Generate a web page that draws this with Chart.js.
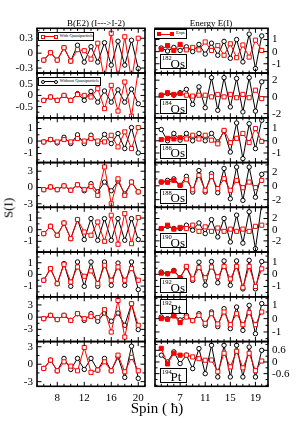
<!DOCTYPE html>
<html><head><meta charset="utf-8">
<script src="https://cdn.jsdelivr.net/npm/chart.js@4.4.1/dist/chart.umd.min.js"></script>
<style>
body{margin:0;background:#fff;}
#wrap{position:relative;width:299px;height:423px;overflow:hidden;font-family:'Liberation Serif','Times New Roman',serif;color:#000;}
canvas{position:absolute;top:0;}
.t{position:absolute;white-space:nowrap;z-index:5;line-height:1;}
.leg{position:absolute;box-sizing:border-box;border:1px solid #000;background:#fff;z-index:5;}
.leg .ln{position:absolute;height:0;}
.leg .mk{position:absolute;box-sizing:border-box;width:4px;height:4px;}
.leg .tx{position:absolute;font-size:4.5px;line-height:4.5px;white-space:nowrap;}
.nuc{position:absolute;box-sizing:border-box;border:1px solid #000;background:#fff;z-index:5;width:27px;height:15px;}
.nuc .m{position:absolute;left:1px;top:0px;font-size:6.5px;line-height:6.5px;}
.nuc .e{position:absolute;left:9.5px;bottom:-1.5px;font-size:13px;line-height:13px;}
</style></head><body>
<div id="wrap"></div>
<script>
// ---------- categories / ticks ----------
const spinsB = [6,7,8,9,10,11,12,13,14,15,16,17,18,19,20];
const spinsE = [4,5,6,7,8,9,10,11,12,13,14,15,16,17,18,19,20];
const xTicksB = [8,12,16,20];
const xTicksE = [7,11,15,19];
const nucleusMass = ['182','184','186','188','190','192','192','194'];
const nucleusElem = ['Os','Os','Os','Os','Os','Os','Pt','Pt'];

// ---------- B(E2) S(I) : With / Without quasiparticle ----------
const bWith182    = [-0.14,0.01,-0.14,0.11,-0.16,0.07,0.05,-0.12,0.20,-0.55,0.40,-0.55,0.33,-0.55,0.30];
const bWithout182 = [-0.14,0.01,-0.14,0.11,-0.16,0.16,-0.18,0.13,-0.18,0.21,-0.24,0.24,-0.24,0.26,-0.31];
const bWith184    = [-0.22,-0.07,-0.22,0.0,-0.22,0.04,0.0,-0.07,0.30,-0.59,0.45,-0.70,0.60,-0.93,1.10];
const bWithout184 = [-0.22,-0.07,-0.22,0.0,-0.22,0.08,-0.22,0.18,-0.30,0.20,-0.30,0.25,-0.30,0.28,-0.37];
const bWith186    = [-0.07,0.12,-0.07,0.12,-0.07,0.20,0.0,0.20,0.0,-0.07,0.46,-0.47,0.73,-0.60,1.08];
const bWithout186 = [-0.07,0.12,-0.15,0.30,-0.20,0.50,-0.20,0.47,-0.20,0.53,-0.20,0.60,-0.60,1.08,-0.95];
const bWith188    = [-0.4,0.1,-0.4,0.3,-0.5,0.5,-0.4,0.2,-1.45,3.8,-3.0,1.6,-1.45,1.0,-0.8];
const bWithout188 = [-0.4,0.1,-0.4,0.3,-0.5,0.5,-0.6,0.7,-0.8,1.0,-0.6,1.2,-1.2,1.0,-0.8];
const bWith190    = [-0.34,0.29,-0.48,0.57,-0.77,0.87,-0.20,-0.48,0.66,-1.0,1.24,-1.25,1.38,-1.20,1.04];
const bWithout190 = [-0.34,0.29,-0.48,0.57,-0.77,0.87,-0.85,0.95,-0.91,0.95,-0.91,0.95,-0.91,0.95,-0.85];
const bWith192    = [-0.5,0.5,-0.79,0.87,-0.65,0.64,-0.16,0.30,-0.79,0.78,-0.5,0.64,-0.5,0.5,-0.5];
const bWithout192 = [-0.5,0.5,-0.79,0.93,-1.02,1.07,-1.02,1.07,-1.02,1.07,-0.93,0.98,-0.93,1.07,-1.30];
const bWith192Pt    = [-0.37,0.44,-0.6,0.44,-0.8,0.86,-0.37,0.2,-0.1,1.84,-3.66,4.1,-4.9,3.3,-2.0];
const bWithout192Pt = [-0.37,0.44,-0.6,0.44,-0.8,0.86,-0.8,0.86,-1.0,1.0,-1.0,1.0,-2.0,3.3,-3.07];
const bWith194Pt    = [-0.72,0.7,-1.13,0.41,-0.33,-1.13,2.88,-1.4,-1.0,0.41,-1.13,1.56,-1.3,1.17,-1.13];
const bWithout194Pt = [-0.72,0.7,-1.13,1.0,-0.9,1.0,-0.9,1.0,-1.0,1.0,-1.13,1.27,-2.27,3.1,-2.44];

// ---------- Energy S(I) : Expt. / Theory ----------
const eExpt182   = [0.2,0.5,0.1,0.6,0.15,0.35,0.15,0.8,0.1,0.5,-0.3,0.65,-0.5,0.55,-0.45,0.95,0.1];
const eTheory182 = [0.3,0.05,0.35,0.1,0.4,0.0,0.6,-0.2,0.7,-0.3,0.85,-0.55,1.0,-0.85,1.45,-1.4,1.3];
const eExpt184   = [0.2,0.5,0.3,0.4,0.2,0.1,0.2,0.2,0.0,0.3,0.0,0.3,-0.1,0.3,-0.1,0.8,-0.2];
const eTheory184 = [0.2,0.4,0.2,0.5,0.9,-0.9,1.2,-1.3,2.3,-1.6,2.3,-1.2,2.2,-1.8,2.3,-1.7,1.8];
const eExpt186   = [0.1,0.2,0.15,0.25,0.15,0.45,0.15,0.45,0.05,-0.25,0.85,-0.15,0.2,0.6,-0.15,1.0,-0.05];
const eTheory186 = [0.92,0.0,0.6,0.05,0.6,0.0,0.6,0.0,0.6,-0.1,0.8,-0.92,1.46,-1.46,1.4,-0.64,1.68];
const eExpt188   = [0.54,0.5,0.78,0.05,0.88,-0.57,1.5,-0.65,1.36,-0.4,1.03,-0.65,0.78,-0.27,0.54,-0.27,0.78];
const eTheory188 = [0.54,0.78,1.0,0.05,1.36,-0.9,2.2,-0.9,1.75,-1.0,2.5,-1.87,2.7,-2.1,2.7,-1.64,1.65];
const eExpt190   = [0.2,0.8,0.1,0.4,0.2,0.8,-0.3,0.5,-0.3,0.3,-0.3,0.1,-0.3,0.1,-0.3,0.6,0.8];
const eTheory190 = [0.2,0.6,0.2,0.2,0.8,-0.1,1.2,-0.7,1.8,-1.3,2.0,-2.2,2.6,-2.4,3.2,-3.4,4.6];
const eExpt192   = [0.1,0.05,0.27,-0.28,0.65,-0.38,0.55,-0.28,0.6,-0.2,0.65,-0.38,0.65,-1.1,0.65,-1.0,0.45];
const eTheory192 = [0.18,0.05,0.32,-0.28,0.6,-0.5,1.0,-0.9,1.05,-0.7,1.1,-0.9,1.1,-1.2,1.15,-1.2,1.05];
const eExpt192Pt   = [0.0,-0.05,0.2,-0.3,0.12,-0.15,0.25,-0.35,0.37,-0.4,0.5,-0.45,0.37,-0.45,0.45,-0.45,0.5];
const eTheory192Pt = [0.12,0.0,0.25,-0.1,0.25,-0.15,0.37,-0.5,0.5,-0.6,0.75,-0.75,0.87,-0.88,1.0,-1.13,1.13];
const eExpt194Pt   = [0.7,-0.1,0.45,0.35,0.35,0.26,0.17,0.09,0.1,-0.5,0.45,-0.25,0.55,-0.3,0.45,-0.45,0.05];
const eTheory194Pt = [0.35,0.0,0.52,-0.08,0.35,-0.34,0.69,-0.6,0.86,-0.77,0.86,-0.77,0.86,-0.77,0.77,-0.77,0.6];

// ---------- y tick labels per panel ----------
const yTicksB = [[-0.3,0,0.3],[-0.5,0,0.5],[-1,0,1],[-3,0,3],[-1,0,1],[-1,0,1],[-3,0,3],[-3,0,3]];
const yTicksE = [[-1,0,1],[-2,0,2],[-1,0,1],[-2,0,2],[-2,0,2],[-1,0,1],[-1,0,1],[-0.6,0,0.6]];

// ---------- axis layout (not data) ----------
const yRangeB = [[-0.4,0.5],[-1,1],[-1.72,1.86],[-3.65,4.6],[-1.92,1.92],[-1.92,1.92],[-6,5],[-3.8,3.9]];
const yMinorB = [0.15,0.25,0.5,1.5,0.5,0.5,1.5,1.5];
const yRangeE = [[-1.77,1.93],[-2.5,2.85],[-1.78,1.88],[-3.1,3.35],[-4,4],[-1.85,1.83],[-1.72,1.64],[-1.25,1.05]];
const yMinorE = [0.5,1,0.5,1,1,0.5,0.5,0.3];

const seriesB = [[bWith182,bWithout182],[bWith184,bWithout184],[bWith186,bWithout186],[bWith188,bWithout188],
  [bWith190,bWithout190],[bWith192,bWithout192],[bWith192Pt,bWithout192Pt],[bWith194Pt,bWithout194Pt]];
const seriesE = [[eExpt182,eTheory182],[eExpt184,eTheory184],[eExpt186,eTheory186],[eExpt188,eTheory188],
  [eExpt190,eTheory190],[eExpt192,eTheory192],[eExpt192Pt,eTheory192Pt],[eExpt194Pt,eTheory194Pt]];

const FONT = "'Liberation Serif','Times New Roman',serif";
const TOP0 = 28.3, ROWH = 44.75, CH = 423;
const wrap = document.getElementById('wrap');

const framePlugin = {
  id: 'frame',
  afterDraw(chart, args, o) {
    const {ctx, chartArea: a} = chart;
    const xs = chart.scales.x, ys = chart.scales.y;
    ctx.save();
    ctx.strokeStyle = '#000';
    ctx.lineWidth = 1;
    ctx.beginPath();
    const xMaj = xs.ticks.map(t => t.value);
    for (let v = Math.ceil(xs.min); v <= Math.floor(xs.max); v++) {
      const L = xMaj.includes(v) ? 4.5 : 2.5;
      const p = xs.getPixelForValue(v);
      ctx.moveTo(p, a.bottom); ctx.lineTo(p, a.bottom - L);
      ctx.moveTo(p, a.top); ctx.lineTo(p, a.top + L);
    }
    const yMaj = ys.ticks.map(t => t.value);
    const st = o.minor;
    for (let k = Math.ceil(ys.min / st); k * st <= ys.max; k++) {
      const v = +(k * st).toFixed(4);
      const L = yMaj.some(m => Math.abs(m - v) < 1e-6) ? 4.5 : 2.5;
      const p = ys.getPixelForValue(v);
      ctx.moveTo(a.left, p); ctx.lineTo(a.left + L, p);
      ctx.moveTo(a.right, p); ctx.lineTo(a.right - L, p);
    }
    ctx.stroke();
    ctx.lineWidth = 1.6;
    ctx.strokeRect(a.left, a.top, a.right - a.left, a.bottom - a.top);
    ctx.restore();
  }
};

function xy(xs, ys) { return xs.map((x, i) => ({x, y: ys[i]})); }

function makePanel(col, row) {
  const left = col === 0;
  const showX = row === 7;
  const top = TOP0 + ROWH * row;
  const bottom = top + ROWH;
  const xAxisH = 20;
  const canvas = document.createElement('canvas');
  const cl = left ? 0 : 150, cw = left ? 150 : 149;
  canvas.width = cw; canvas.height = CH;
  canvas.style.left = cl + 'px';
  canvas.style.width = cw + 'px'; canvas.style.height = CH + 'px';
  wrap.appendChild(canvas);
  const spins = left ? spinsB : spinsE;
  const [red, black] = left ? seriesB[row] : seriesE[row];
  const yr = left ? yRangeB[row] : yRangeE[row];
  const yt = left ? yTicksB[row] : yTicksE[row];
  const xt = left ? xTicksB : xTicksE;
  const redFill = spins.map((s, i) => (!left && i < 4) ? '#ff0000' : '#ffffff');
  new Chart(canvas, {
    type: 'line',
    data: {
      datasets: [
        {data: xy(spins, red), borderColor: '#ff0000', borderWidth: 1, tension: 0,
         pointStyle: 'rect', pointRadius: 2.9, pointBorderWidth: 1, pointBorderColor: '#ff0000',
         pointBackgroundColor: redFill, order: 0},
        {data: xy(spins, black), borderColor: '#000000', borderWidth: 1, tension: 0,
         pointStyle: 'circle', pointRadius: 2.2, pointBorderWidth: 1, pointBorderColor: '#000000',
         pointBackgroundColor: '#ffffff', order: 1}
      ]
    },
    options: {
      responsive: false, animation: false, devicePixelRatio: 1,
      layout: {padding: {left: left ? 0 : 4, right: 3, top: top,
                         bottom: CH - bottom - (showX ? xAxisH : 0)}},
      plugins: {legend: {display: false}, tooltip: {enabled: false},
                frame: {minor: left ? yMinorB[row] : yMinorE[row]}},
      scales: {
        x: {type: 'linear', bounds: 'data', min: left ? 5 : 3, max: 21, display: showX,
            afterBuildTicks: s => { s.ticks = xt.map(v => ({value: v})); },
            afterFit: s => { s.height = showX ? xAxisH : 0; },
            grid: {display: false, drawTicks: false}, border: {display: false},
            ticks: {font: {family: FONT, size: 11}, color: '#000', padding: 5,
                    maxRotation: 0, autoSkip: false, callback: v => String(v)}},
        y: {type: 'linear', bounds: 'data', position: left ? 'left' : 'right',
            min: yr[0], max: yr[1],
            afterBuildTicks: s => { s.ticks = yt.map(v => ({value: v})); },
            afterFit: s => { s.width = left ? 37 : 28; },
            grid: {display: false, drawTicks: false}, border: {display: false},
            ticks: {font: {family: FONT, size: 11}, color: '#000', padding: 4,
                    autoSkip: false, callback: v => String(v)}}
      }
    },
    plugins: [framePlugin]
  });
  if (!left) {
    const d = document.createElement('div');
    d.className = 'nuc';
    d.style.left = '160px';
    d.style.top = (row === 6 ? top + 2.5 : top + 26) + 'px';
    d.innerHTML = '<span class="m">' + nucleusMass[row] + '</span><span class="e">' + nucleusElem[row] + '</span>';
    wrap.appendChild(d);
  }
}

for (let r = 0; r < 8; r++) { makePanel(0, r); makePanel(1, r); }

function addText(txt, x, y, size, extra) {
  const d = document.createElement('div');
  d.className = 't';
  d.textContent = txt;
  d.style.fontSize = size + 'px';
  d.style.left = x + 'px'; d.style.top = y + 'px';
  if (extra) Object.assign(d.style, extra);
  wrap.appendChild(d);
  return d;
}
// titles
addText('B(E2) (I--->I-2)', 96, 22.7, 9, {transform: 'translate(-50%,-50%)'});
addText('Energy E(I)', 211, 23, 9, {transform: 'translate(-50%,-50%)'});
addText('S(I)', 8, 208, 13, {transform: 'translate(-50%,-50%) rotate(-90deg)'});
addText('Spin ( \u0127)', 157, 408, 15, {transform: 'translate(-50%,-50%)'});

function addLegend(x, y, w, h, color, square, filled, label) {
  const b = document.createElement('div');
  b.className = 'leg';
  Object.assign(b.style, {left: x + 'px', top: y + 'px', width: w + 'px', height: h + 'px'});
  const midY = h / 2 - 1;
  b.innerHTML =
    '<div class="ln" style="left:3px;width:14px;top:' + midY + 'px;border-top:1px solid ' + color + '"></div>' +
    ['2px', '15px'].map(l => '<div class="mk" style="left:' + l + ';top:' + (midY - 1.5) + 'px;border:1px solid ' + color +
      ';background:' + (filled ? color : '#fff') + ';border-radius:' + (square ? '0' : '50%') + '"></div>').join('') +
    '<div class="tx" style="left:21px;top:' + (midY - 2.5) + 'px">' + label + '</div>';
  wrap.appendChild(b);
}
addLegend(37.5, 31.5, 56, 9.5, '#ff0000', true, false, 'With Quasiparticle');
addLegend(37.5, 76.5, 63, 9.5, '#000000', false, false, 'Without Quasiparticle');
addLegend(154, 29, 33, 9.5, '#ff0000', true, true, 'Expt.');
</script>
</body></html>
